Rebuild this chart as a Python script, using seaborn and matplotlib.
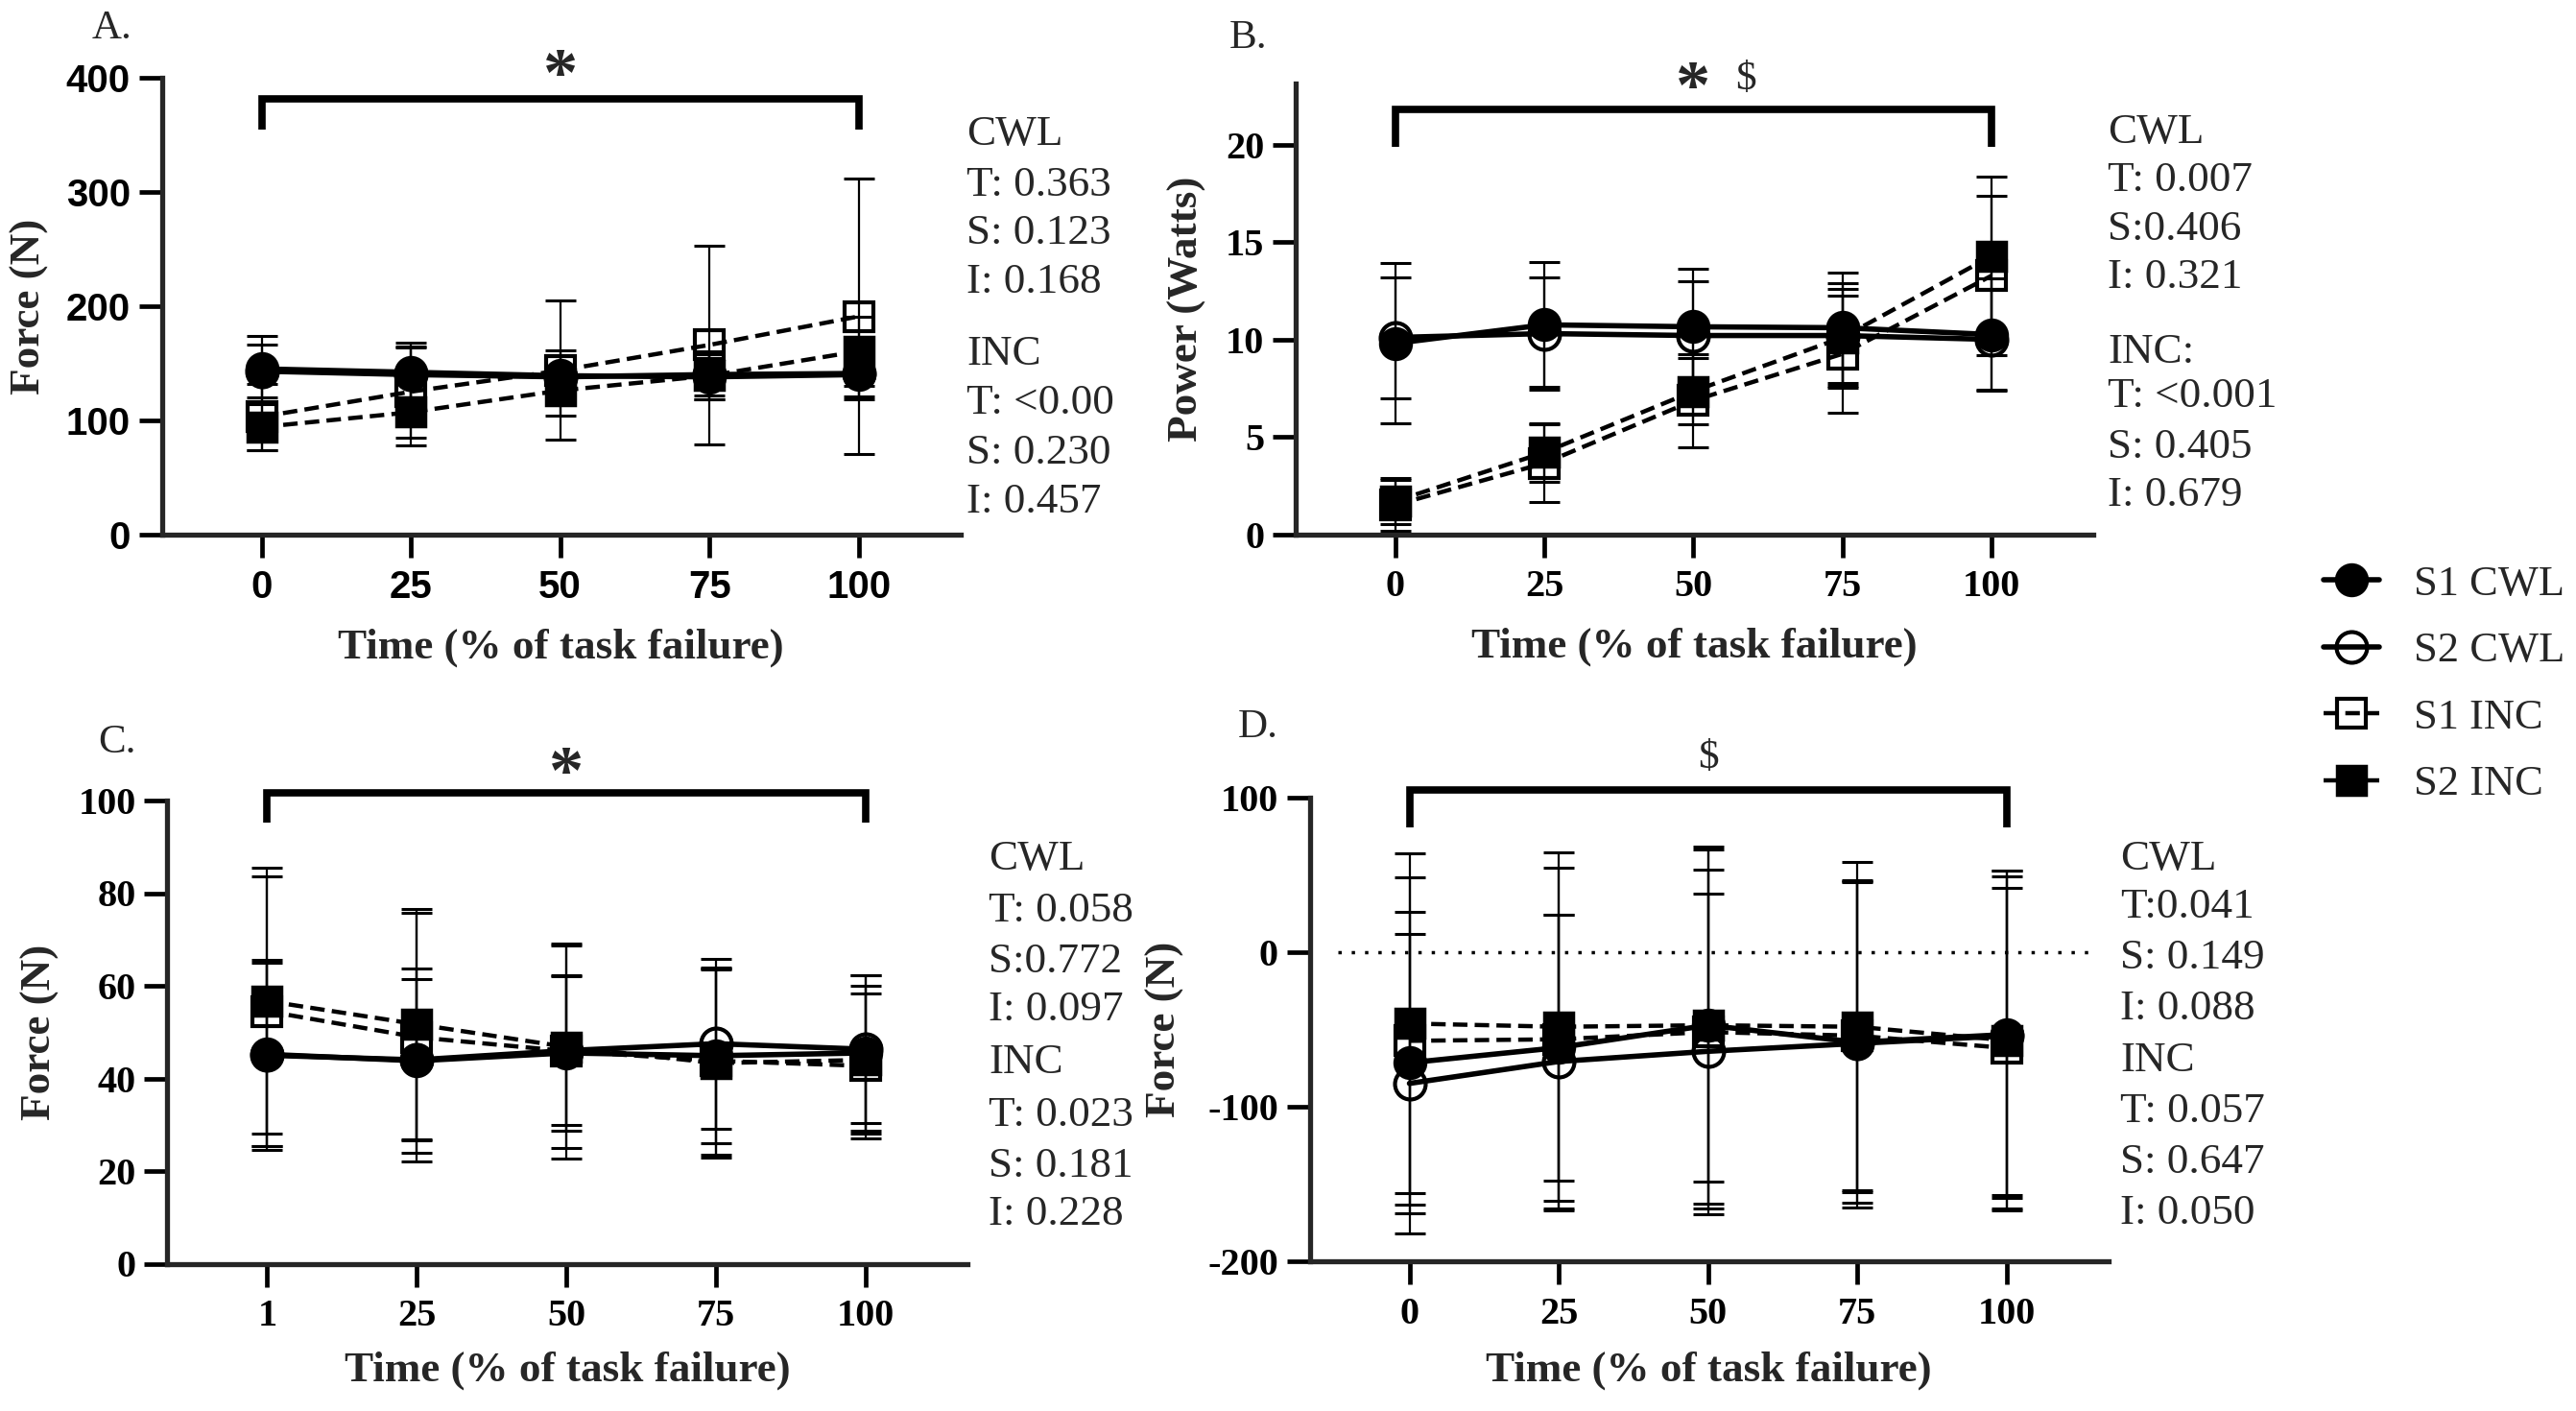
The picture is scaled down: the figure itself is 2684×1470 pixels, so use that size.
import matplotlib
matplotlib.use("Agg")
import matplotlib.pyplot as plt
import seaborn as sns

# ---------------- data ----------------
time_pts = [0, 25, 50, 75, 100]
series_names = ["S1 CWL", "S2 CWL", "S1 INC", "S2 INC"]

# Panel A : Force (N)
a_s1_cwl = [145, 142, 139, 138, 140]
a_s1_cwl_sd = [29, 26, 22, 20, 22]
a_s2_cwl = [143, 140, 138, 140, 141]
a_s2_cwl_sd = [23, 24, 19, 18, 20]
a_s1_inc = [103, 125, 143.6, 166, 191]
a_s1_inc_sd = [29, 40, 61, 87, 121]
a_s2_inc = [94, 107, 126, 139, 160.5]
a_s2_inc_sd = [20, 29, 22, 21, 30]

# Panel B : Power (Watts)
b_s1_cwl = [9.8, 10.75, 10.65, 10.6, 10.25]
b_s1_cwl_sd = [4.1, 3.2, 3.0, 2.85, 2.9]
b_s2_cwl = [10.1, 10.3, 10.2, 10.2, 10.0]
b_s2_cwl_sd = [3.1, 2.9, 2.8, 2.7, 2.6]
b_s1_inc = [1.5, 3.65, 6.86, 9.26, 13.27]
b_s1_inc_sd = [1.3, 2.0, 2.4, 3.0, 4.1]
b_s2_inc = [1.7, 4.2, 7.34, 10.1, 14.28]
b_s2_inc_sd = [1.2, 1.5, 1.7, 2.5, 4.1]

# Panel C : Force (N)
c_s1_cwl = [45.2, 43.8, 45.5, 44.9, 45.5]
c_s1_cwl_sd = [19.8, 19.9, 16.8, 18.8, 16.8]
c_s2_cwl = [45.0, 44.0, 46.0, 47.5, 46.3]
c_s2_cwl_sd = [20.5, 17.4, 16.0, 18.3, 16.0]
c_s1_inc = [54.5, 48.9, 45.9, 43.8, 42.7]
c_s1_inc_sd = [29.2, 26.9, 23.2, 20.2, 15.7]
c_s2_inc = [56.7, 51.7, 46.8, 43.3, 44.0]
c_s2_inc_sd = [28.7, 24.9, 21.9, 20.3, 16.0]

# Panel D : Force (N)
d_s1_cwl = [-71.5, -61.7, -47.2, -58.3, -53.2]
d_s1_cwl_sd = [97.5, 86, 101, 104, 106]
d_s2_cwl = [-84.9, -70.7, -64.1, -59, -54]
d_s2_cwl_sd = [97, 95, 102, 106, 103]
d_s1_inc = [-57.3, -56.3, -51.6, -54, -62]
d_s1_inc_sd = [106, 111, 118, 100, 104]
d_s2_inc = [-46.1, -48.2, -47.2, -48.2, -57]
d_s2_inc_sd = [110, 113, 115.7, 107, 110]

a_xticklabels = ["0", "25", "50", "75", "100"]
c_xticklabels = ["1", "25", "50", "75", "100"]
a_yticks = [0, 100, 200, 300, 400]
b_yticks = [0, 5, 10, 15, 20]
c_yticks = [0, 20, 40, 60, 80, 100]
d_yticks = [-200, -100, 0, 100]

a_stats = ["CWL", "T: 0.363", "S: 0.123", "I: 0.168", "INC", "T: <0.00", "S: 0.230", "I: 0.457"]
b_stats = ["CWL", "T: 0.007", "S:0.406", "I: 0.321", "INC:", "T: <0.001", "S: 0.405", "I: 0.679"]
c_stats = ["CWL", "T: 0.058", "S:0.772", "I: 0.097", "INC", "T: 0.023", "S: 0.181", "I: 0.228"]
d_stats = ["CWL", "T:0.041", "S: 0.149", "I: 0.088", "INC", "T: 0.057", "S: 0.647", "I: 0.050"]

xlabel_text = "Time (% of task failure)"
panel_letters = ["A.", "B.", "C.", "D."]
# ---------------------------------------

W, H = 2684, 1470
sns.set_theme(style="ticks")
plt.rcParams["font.family"] = ["Liberation Serif", "DejaVu Serif"]
plt.rcParams["axes.linewidth"] = 3.8

fig = plt.figure(figsize=(W / 100, H / 100), dpi=100)
fig.patch.set_facecolor("white")

XL = (-16.7, 117)


def px_axes(left, top, width, bottom):
    return fig.add_axes([left / W, 1 - bottom / H, width / W, (bottom - top) / H])


axA = px_axes(168.6, 81.3, 831.9, 556.6)
axB = px_axes(1350.1, 86.7, 830.5, 556.6)
axC = px_axes(174.4, 834.0, 833.2, 1316.5)
axD = px_axes(1364.6, 831.4, 831.9, 1313.8)

styles = [
    dict(marker="o", markersize=23, mfc="black", mec="black", mew=2.5, ls="-", lw=4.0),
    dict(marker="o", markersize=23, mfc="none", mec="black", mew=3.0, ls="-", lw=4.0),
    dict(marker="s", markersize=21.5, mfc="none", mec="black", mew=3.0, ls=(0, (3.4, 1.7)), lw=3.2),
    dict(marker="s", markersize=21.5, mfc="black", mec="black", mew=2.5, ls=(0, (3.4, 1.7)), lw=3.2),
]

panels = [
    (axA, [a_s1_cwl, a_s2_cwl, a_s1_inc, a_s2_inc],
     [a_s1_cwl_sd, a_s2_cwl_sd, a_s1_inc_sd, a_s2_inc_sd]),
    (axB, [b_s1_cwl, b_s2_cwl, b_s1_inc, b_s2_inc],
     [b_s1_cwl_sd, b_s2_cwl_sd, b_s1_inc_sd, b_s2_inc_sd]),
    (axC, [c_s1_cwl, c_s2_cwl, c_s1_inc, c_s2_inc],
     [c_s1_cwl_sd, c_s2_cwl_sd, c_s1_inc_sd, c_s2_inc_sd]),
    (axD, [d_s1_cwl, d_s2_cwl, d_s1_inc, d_s2_inc],
     [d_s1_cwl_sd, d_s2_cwl_sd, d_s1_inc_sd, d_s2_inc_sd]),
]

legend_handles = []
for ax, means, sds in panels:
    for m, sd in zip(means, sds):
        ax.errorbar(time_pts, m, yerr=sd, fmt="none", ecolor="black",
                    elinewidth=1.6, capsize=11.5, capthick=2.2, zorder=2)
    for i, m in enumerate(means):
        st = styles[i]
        sns.lineplot(x=time_pts, y=m, ax=ax, color="black", legend=False,
                     errorbar=None, sort=False, zorder=3,
                     marker=st["marker"], markersize=st["markersize"],
                     markerfacecolor=st["mfc"], markeredgecolor=st["mec"],
                     markeredgewidth=st["mew"], linestyle=st["ls"],
                     linewidth=st["lw"], label=series_names[i])
        if ax is axA:
            legend_handles.append(ax.lines[-1])
    ax.set_xlim(*XL)
    sns.despine(ax=ax)
    ax.tick_params(axis="both", direction="out", length=17.5, width=3.4,
                   color="black", labelcolor="black")
    ax.tick_params(axis="x", pad=9)
    ax.tick_params(axis="y", pad=6)
    ax.set_facecolor("white")

axA.set_ylim(0, 400)
axB.set_ylim(0, 23.15)
axC.set_ylim(0, 100)
axD.set_ylim(-200, 100)

tick_sans = dict(family=["Liberation Sans", "DejaVu Sans"], weight="bold", size=29)
tick_serif = dict(family=["Liberation Serif", "DejaVu Serif"], weight="bold", size=29)

axA.set_xticks(time_pts, labels=a_xticklabels, fontdict=tick_sans)
axA.set_yticks(a_yticks, labels=[str(v) for v in a_yticks], fontdict=tick_sans)
axB.set_xticks(time_pts, labels=a_xticklabels, fontdict=tick_serif)
axB.set_yticks(b_yticks, labels=[str(v) for v in b_yticks], fontdict=tick_serif)
axC.set_xticks(time_pts, labels=c_xticklabels, fontdict=tick_serif)
axC.set_yticks(c_yticks, labels=[str(v) for v in c_yticks], fontdict=tick_serif)
axD.set_xticks(time_pts, labels=a_xticklabels, fontdict=tick_serif)
axD.set_yticks(d_yticks, labels=[str(v) for v in d_yticks], fontdict=tick_serif)

# zero reference line in D
axD.axhline(0, xmin=0.035, xmax=0.981, color="black", lw=2.5,
            linestyle=(0, (1, 3)), zorder=1)

# axis labels
lab_kw = dict(fontsize=32.5, fontweight="bold", family=["Liberation Serif", "DejaVu Serif"])
for ax, ylab, ylx, xly in [(axA, "Force (N)", -0.166, -0.249),
                           (axB, "Power (Watts)", -0.136, -0.249),
                           (axC, "Force (N)", -0.159, -0.230),
                           (axD, "Force (N)", -0.181, -0.236)]:
    ax.set_xlabel(xlabel_text, **lab_kw)
    ax.set_ylabel(ylab, **lab_kw)
    ax.xaxis.label.set_va("center")
    ax.yaxis.label.set_va("center")
    ax.yaxis.set_label_coords(ylx, 0.5)
    ax.xaxis.set_label_coords(0.5, xly)

# significance brackets
bracket_kw = dict(color="black", lw=5.5, clip_on=False, solid_joinstyle="miter",
                  solid_capstyle="butt", zorder=4)
axA.plot([0, 0, 100, 100], [354.5, 381.8, 381.8, 354.5], **bracket_kw)
axB.plot([0, 0, 100, 100], [19.86, 21.8, 21.8, 19.86], **bracket_kw)
axC.plot([0, 0, 100, 100], [95.3, 101.7, 101.7, 95.3], **bracket_kw)
axD.plot([0, 0, 100, 100], [80.9, 105.5, 105.5, 80.9], **bracket_kw)

star_kw = dict(ha="center", va="baseline", fontsize=52, fontweight="bold",
               family=["Liberation Serif", "DejaVu Serif"], clip_on=False)
dollar_kw = dict(ha="center", va="baseline", fontsize=31,
                 family=["Liberation Serif", "DejaVu Serif"], clip_on=False)
axA.text(50, 385, "*", **star_kw)
axB.text(50, 21.9, "*", **star_kw)
axB.text(58.7, 22.82, "$", **dollar_kw)
axC.text(50, 101.7, "*", **star_kw)
axD.text(50, 119.4, "$", **dollar_kw)

# statistics text blocks
stat_kw = dict(ha="left", va="center", fontsize=32.5,
               family=["Liberation Serif", "DejaVu Serif"])
stat_blocks = [
    (a_stats, 1007, [140, 193, 243, 294, 369, 420, 472, 523]),
    (b_stats, 2196, [138, 188, 238.5, 289, 367, 413, 465.6, 516]),
    (c_stats, 1030, [894.5, 948.5, 1002, 1052, 1107, 1162, 1214.7, 1265]),
    (d_stats, 2209, [894.8, 945, 997.8, 1050.5, 1105.5, 1158, 1211, 1263.6]),
]
for texts, xpx, ypxs in stat_blocks:
    for t, ypx in zip(texts, ypxs):
        fig.text(xpx / W, 1 - ypx / H, t, **stat_kw)

# panel letters
for letter, (xpx, ypx) in zip(panel_letters, [(117, 30), (1301, 40), (122, 774), (1311, 758)]):
    fig.text(xpx / W, 1 - ypx / H, letter, ha="center", va="center", fontsize=31,
             family=["Liberation Serif", "DejaVu Serif"])

# legend
fig.legend(legend_handles, series_names, loc="center left",
           bbox_to_anchor=(2421 / W, 1 - 713 / H), frameon=False,
           prop=dict(family=["Liberation Serif", "DejaVu Serif"], size=32),
           handlelength=1.31, handletextpad=0.8, labelspacing=0.66,
           borderpad=0, borderaxespad=0)

fig.savefig("out.png", dpi=100, facecolor="white")
